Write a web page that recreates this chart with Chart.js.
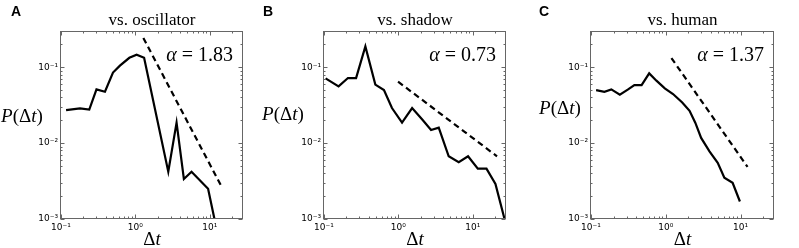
<!DOCTYPE html>
<html>
<head>
<meta charset="utf-8">
<script src="https://cdn.jsdelivr.net/npm/chart.js@4"></script>
<style>
  body { margin: 0; background: #fff; }
  #wrap { position: relative; width: 799px; height: 248px; }
  canvas { position: absolute; top: 0; }
</style>
</head>
<body>
<div id="wrap">
  <canvas id="cA" width="258" height="248" style="left:0px"></canvas>
  <canvas id="cB" width="272" height="248" style="left:258px"></canvas>
  <canvas id="cC" width="269" height="248" style="left:530px"></canvas>
</div>
<script>
// --- data ---
var xTicks = [0.1, 1, 10];
var yTicks = [0.001, 0.01, 0.1];

var oscX = [0.117, 0.18, 0.24, 0.30, 0.39, 0.50, 0.62, 0.83, 1.04, 1.31, 2.77, 3.58, 4.49, 5.69, 9.5, 11.7];
var oscY = [0.0272, 0.0286, 0.0277, 0.051, 0.0475, 0.085, 0.105, 0.133, 0.146, 0.133, 0.0042, 0.0186, 0.00337, 0.0042, 0.0025, 0.00095];
var oscFitX = [1.28, 14.0];
var oscFitY = [0.243, 0.00282];

var shadowX = [0.105, 0.157, 0.21, 0.27, 0.36, 0.49, 0.64, 0.82, 1.12, 1.53, 2.08, 2.75, 3.49, 4.75, 6.48, 8.65, 11.7, 15.3, 20.2, 26.9];
var shadowY = [0.0714, 0.056, 0.072, 0.072, 0.188, 0.059, 0.050, 0.029, 0.0186, 0.029, 0.0206, 0.0149, 0.016, 0.0067, 0.0056, 0.0067, 0.0046, 0.0046, 0.0029, 0.00098];
var shadowFitX = [0.99, 21.2];
var shadowFitY = [0.0645, 0.0067];

var humanX = [0.117, 0.151, 0.187, 0.243, 0.31, 0.38, 0.475, 0.60, 0.75, 0.97, 1.25, 1.66, 2.08, 2.48, 2.97, 3.84, 4.95, 6.07, 7.83, 9.8];
var humanY = [0.050, 0.0475, 0.051, 0.0434, 0.0506, 0.058, 0.058, 0.083, 0.0665, 0.0526, 0.0443, 0.0343, 0.0266, 0.0186, 0.0117, 0.0078, 0.0055, 0.0035, 0.0030, 0.0017];
var humanFitX = [1.19, 12.4];
var humanFitY = [0.132, 0.00485];

var SERIF = '"Liberation Serif", "Times New Roman", serif';

function pts(xs, ys) {
  return xs.map(function(x, i) { return { x: x, y: ys[i] }; });
}

var supMap = { '-': '\u207B', '0': '\u2070', '1': '\u00B9', '2': '\u00B2', '3': '\u00B3' };
function tenPow(v) {
  var e = String(Math.round(Math.log10(v)));
  return '10' + e.split('').map(function(c){ return supMap[c]; }).join('');
}

// draw a run of text pieces with different fonts
function drawRun(ctx, parts, x, y, align) {
  var w = 0;
  parts.forEach(function(p){ ctx.font = p[1]; w += ctx.measureText(p[0]).width; });
  var sx = align === 'right' ? x - w : (align === 'center' ? x - w / 2 : x);
  ctx.textAlign = 'left';
  ctx.textBaseline = 'alphabetic';
  parts.forEach(function(p){
    ctx.font = p[1];
    ctx.fillText(p[0], sx, y);
    sx += ctx.measureText(p[0]).width;
  });
}

var decor = {
  id: 'decor',
  afterDraw: function(chart, args, o) {
    var ctx = chart.ctx, a = chart.chartArea;
    var xs = chart.scales.x, ys = chart.scales.y;
    ctx.save();
    // frame
    ctx.strokeStyle = '#666';
    ctx.lineWidth = 1;
    var L = Math.round(a.left) - 0.5, R = Math.round(a.right) - 0.5;
    var T = Math.round(a.top) + 0.5, B = Math.round(a.bottom) - 0.5;
    ctx.strokeRect(L, T, R - L, B - T);
    // inward ticks, major + minor
    ctx.beginPath();
    for (var d = -4; d <= 2; d++) {
      for (var m = 1; m <= 9; m++) {
        var v = m * Math.pow(10, d);
        var len = m === 1 ? 4 : 2;
        if (v >= xs.min * 0.999 && v <= xs.max * 1.001) {
          var px = Math.round(xs.getPixelForValue(v)) + 0.5;
          ctx.moveTo(px, B); ctx.lineTo(px, B - len);
          ctx.moveTo(px, T); ctx.lineTo(px, T + len);
        }
        if (v >= ys.min * 0.999 && v <= ys.max * 1.001) {
          var py = Math.round(ys.getPixelForValue(v)) + 0.5;
          ctx.moveTo(L, py); ctx.lineTo(L + len, py);
          ctx.moveTo(R, py); ctx.lineTo(R - len, py);
        }
      }
    }
    ctx.stroke();

    ctx.fillStyle = '#000';
    var cx = (a.left + a.right) / 2;
    // title
    drawRun(ctx, [[o.title, '17px ' + SERIF]], cx, 25, 'center');
    // panel letter
    drawRun(ctx, [[o.letter, 'bold 14px "Liberation Sans", Arial, sans-serif']], o.letterX, 16, 'left');
    // alpha
    drawRun(ctx, [['\u03B1', 'italic 20px ' + SERIF], [' = ' + o.alpha, '20px ' + SERIF]], a.right - 10, a.top + 30, 'right');
    // y label
    var f = '19px ' + SERIF, fi = 'italic 19px ' + SERIF;
    drawRun(ctx, [['P', fi], ['(\u0394', f], ['t', fi], [')', f]], o.ylabX, o.ylabY, 'center');
    // x label
    drawRun(ctx, [['\u0394', f], ['t', fi]], cx, 245, 'center');
    ctx.restore();
  }
};

function makeChart(id, lineData, fitData, padL, padR, info) {
  var tickFont = { family: '"DejaVu Sans", sans-serif', size: 9 };
  return new Chart(document.getElementById(id), {
    type: 'line',
    data: {
      datasets: [
        { data: lineData, borderColor: '#000', borderWidth: 2.2, pointRadius: 0, tension: 0, fill: false },
        { data: fitData, borderColor: '#000', borderWidth: 2.2, borderDash: [6, 4], pointRadius: 0, tension: 0, fill: false }
      ]
    },
    options: {
      responsive: false,
      animation: false,
      events: [],
      layout: { padding: { top: 31, bottom: 0, left: 0, right: padR } },
      plugins: { legend: { display: false }, tooltip: { enabled: false }, decor: info },
      scales: {
        x: {
          type: 'logarithmic', min: 0.1, max: 28,
          grid: { display: false, drawTicks: false }, border: { display: false },
          afterBuildTicks: function(s) { s.ticks = xTicks.map(function(v){ return { value: v }; }); },
          afterFit: function(s) { s.height = 29; },
          ticks: { callback: function(v){ return tenPow(v); }, font: tickFont, color: '#000', padding: 3, maxRotation: 0, autoSkip: false }
        },
        y: {
          type: 'logarithmic', min: 0.001, max: 0.3,
          grid: { display: false, drawTicks: false }, border: { display: false },
          afterBuildTicks: function(s) { s.ticks = yTicks.map(function(v){ return { value: v }; }); },
          afterFit: function(s) { s.width = padL; },
          ticks: { callback: function(v){ return tenPow(v); }, font: tickFont, color: '#000', padding: 3, autoSkip: false }
        }
      }
    },
    plugins: [decor]
  });
}

makeChart('cA', pts(oscX, oscY), pts(oscFitX, oscFitY), 61, 15,
  { title: 'vs. oscillator', letter: 'A', letterX: 11, alpha: '1.83', ylabX: 22, ylabY: 122 });
makeChart('cB', pts(shadowX, shadowY), pts(shadowFitX, shadowFitY), 66, 24,
  { title: 'vs. shadow', letter: 'B', letterX: 5, alpha: '0.73', ylabX: 25, ylabY: 120 });
makeChart('cC', pts(humanX, humanY), pts(humanFitX, humanFitY), 61, 25,
  { title: 'vs. human', letter: 'C', letterX: 9, alpha: '1.37', ylabX: 30, ylabY: 114 });
</script>
</body>
</html>
